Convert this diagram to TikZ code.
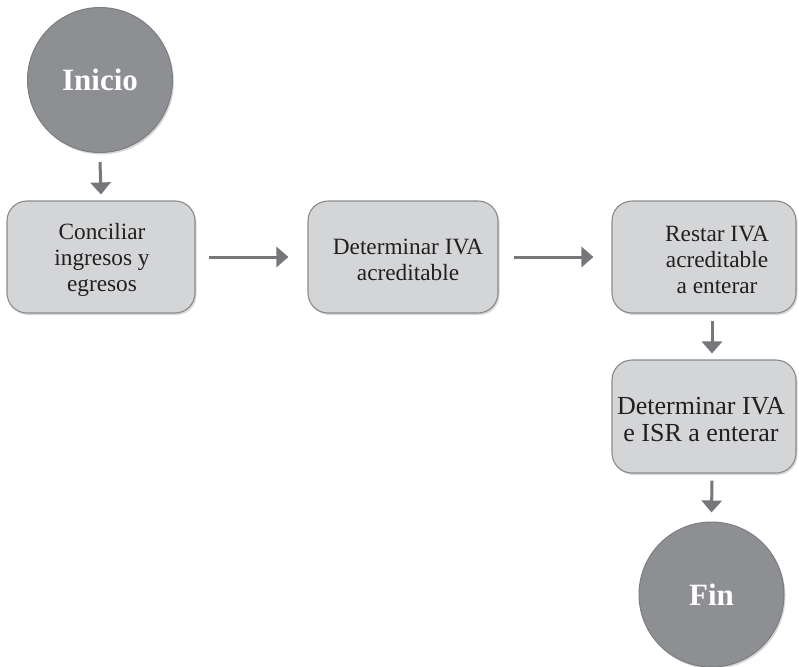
\documentclass[tikz,border=0pt]{standalone}
\usepackage{fontspec}
\setmainfont{Liberation Serif}
\usetikzlibrary{arrows.meta,shadows}
\definecolor{boxfill}{HTML}{D4D5D7}
\definecolor{boxline}{HTML}{8A8A8C}
\definecolor{discfill}{HTML}{8E8F93}
\definecolor{discline}{HTML}{7C7D80}
\definecolor{arrowgray}{HTML}{76777A}
\definecolor{ink}{HTML}{231F20}
\begin{document}
\begin{tikzpicture}[x=1pt,y=-1pt,
  softshadow/.style={drop shadow={shadow xshift=1.5pt, shadow yshift=-2pt, opacity=0.25, fill=black!60}},
  stepbox/.style={draw=boxline, line width=1.1pt, fill=boxfill, rounded corners=20pt,
    minimum height=112pt, inner sep=0pt, softshadow},
  steptext/.style={align=center, text=ink, inner sep=0pt,
    font=\fontsize{23.3}{26.3}\selectfont},
  disc/.style={circle, draw=discline, line width=1pt, fill=discfill, minimum size=145pt,
    inner sep=0pt, text=white, font=\fontsize{31}{34}\selectfont\bfseries, softshadow},
  flow/.style={draw=arrowgray, line width=3pt, -{Triangle[length=12pt,width=20pt]}}]
\useasboundingbox (0,0) rectangle (799,666);

% start and end discs
\node[disc] (start) at (100,80) {Inicio};
\node[disc] (stop) at (711.5,594.5) {Fin};

% process boxes
\node[stepbox, minimum width=188pt] (b1) at (101,257) {};
\node[stepbox, minimum width=190pt] (b2) at (403,257) {};
\node[stepbox, minimum width=184pt] (b3) at (704,257) {};
\node[stepbox, minimum width=184pt, minimum height=113pt] (b4) at (704,416.5) {};

% box captions
\node[steptext] (t1) at ([xshift=1pt,yshift=-3pt]b1.center) {Conciliar\\ingresos y\\egresos};
\node[steptext] (t2) at ([xshift=5pt,yshift=-3pt]b2.center) {Determinar IVA\\acreditable};
\node[steptext] (t3) at ([xshift=13pt,yshift=-3pt]b3.center) {Restar IVA\\acreditable\\a enterar};
\node[steptext, font=\fontsize{26}{27}\selectfont] (t4) at ([xshift=-3pt,yshift=-3pt]b4.center) {Determinar IVA\\e ISR a enterar};

% connectors
\draw[flow] ([yshift=-9pt]start.south) -- ([yshift=6pt]b1.north);
\draw[flow] ([xshift=13pt]b1.east) -- ([xshift=-19pt]b2.west);
\draw[flow] ([xshift=15pt]b2.east) -- ([xshift=-18pt]b3.west);
\draw[flow] ([xshift=8pt,yshift=-7pt]b3.south) -- ([xshift=8pt,yshift=6pt]b4.north);
\draw[flow] ([xshift=8pt,yshift=-7pt]b4.south) -- ([yshift=9pt]stop.north);
\end{tikzpicture}
\end{document}
